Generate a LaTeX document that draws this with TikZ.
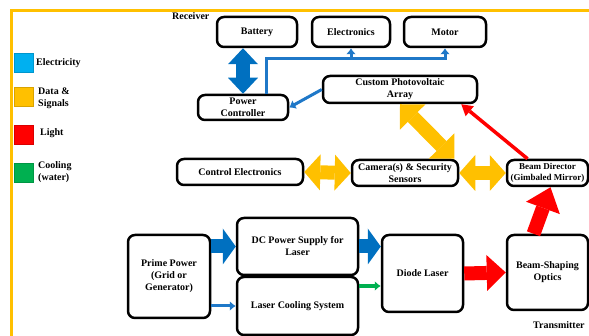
\documentclass[tikz,border=0pt]{standalone}
\usepackage{fontspec}
\setmainfont{Liberation Serif}
\usetikzlibrary{arrows.meta}

\definecolor{elecblue}{HTML}{00B0F0}
\definecolor{wireblue}{HTML}{1F78C8}
\definecolor{fatblue}{HTML}{0070C0}
\definecolor{dataorange}{HTML}{FFC000}
\definecolor{lightred}{HTML}{FF0000}
\definecolor{coolgreen}{HTML}{00B050}

\begin{document}
\begin{tikzpicture}[x=1pt,y=-1pt,
	blk/.style={draw,line width=2.5pt,rounded corners=7pt,align=center,inner sep=1pt,
		font=\fontsize{10}{12}\selectfont\bfseries},
	lbl/.style={anchor=west,align=left,inner sep=0pt,font=\fontsize{10}{12}\selectfont\bfseries},
	key/.style={minimum size=19pt,inner sep=0pt,draw=#1!85!black,fill=#1,line width=0.6pt},
	wire/.style={draw=wireblue,line width=3pt,-{Latex[length=6pt,width=10pt]}},
	fat/.style={draw=#1,fill=#1,line width=14pt},
	onehead/.style={-{Triangle[length=#1,width=36pt,line width=0pt]}},
	twohead/.style={{Triangle[length=#1,width=36pt,line width=0pt]}-{Triangle[length=#1,width=36pt,line width=0pt]}}]
		\useasboundingbox (0,0) rectangle (589,336);
		\draw[dataorange,line width=3pt] (11,336) -- (11,11) -- (589,11);
		% legend
		\node[key=elecblue] (kelec) at (23.5,62.5) {};
		\node[key=dataorange] (kdata) at (23.5,97) {};
		\node[key=lightred] (klight) at (23.5,135) {};
		\node[key=coolgreen] (kcool) at (23.5,173) {};
		\node[lbl] (telec) at (36,63) {Electricity};
		\node[lbl] (tdata) at (38,98) {Data \&\\Signals};
		\node[lbl] (tlight) at (40,133) {Light};
		\node[lbl] (tcool) at (38,172) {Cooling\\(water)};
		\node[lbl] (recv) at (172,16) {Receiver};
		\node[lbl] (trans) at (533,325) {Transmitter};
		% receiver
		\node[blk,minimum width=80pt,minimum height=30pt] (bat) at (257,32) {Battery};
		\node[blk,minimum width=78pt,minimum height=30pt] (elec) at (351,32) {Electronics};
		\node[blk,minimum width=82pt,minimum height=30pt] (motor) at (445,32) {Motor};
		\node[blk,minimum width=90pt,minimum height=25pt] (pc) at (243,107.5) {Power\\Controller};
		\node[blk,minimum width=154pt,minimum height=27pt] (pv) at (400,89.5) {Custom Photovoltaic\\Array};
		\node[blk,minimum width=126pt,minimum height=26pt] (ctrl) at (240,172) {Control Electronics};
		\node[blk,minimum width=106pt,minimum height=26pt] (cam) at (405,173) {Camera(s) \& Security\\Sensors};
		\node[blk,minimum width=81pt,minimum height=26pt,font=\fontsize{9}{10.5}\selectfont\bfseries] (bd) at (547.5,173) {Beam Director\\(Gimbaled Mirror)};
		% transmitter
		\node[blk,minimum width=82pt,minimum height=83pt] (prime) at (169,276.5) {Prime Power\\(Grid or\\Generator)};
		\node[blk,minimum width=121pt,minimum height=57pt] (dc) at (297.5,246.5) {DC Power Supply for\\Laser};
		\node[blk,minimum width=121pt,minimum height=58pt] (cool) at (297.5,306) {Laser Cooling System};
		\node[blk,minimum width=81pt,minimum height=77pt] (diode) at (422.5,273.5) {Diode Laser};
		\node[blk,minimum width=81pt,minimum height=75pt] (bso) at (547.5,272.5) {Beam-Shaping\\Optics};
		% electricity
		\draw[fat=fatblue,line width=14pt,{Triangle[length=16pt,width=30pt,line width=0pt]}-{Triangle[length=16pt,width=30pt,line width=0pt]}] (pc.north) -- (pc.north |- bat.south);
		\coordinate (bend) at (266,59);
		\draw[wire] (bend |- pc.north) -- (bend) -| (motor.south);
		\draw[wire] (bend -| elec.south) -- (elec.south);
		\draw[wire] (pv.west) -- (pc.east);
		\draw[fat=fatblue,onehead=13pt] (prime.east |- dc.west) -- (dc.west);
		\draw[fat=fatblue,onehead=13pt] (dc.east) -- (dc.east -| diode.west);
		\draw[wire] (prime.east |- cool.west) -- (cool.west);
		% data
		\draw[fat=dataorange,twohead=16pt] (ctrl.east) -- (cam.west);
		\draw[fat=dataorange,twohead=16pt] (cam.east) -- (bd.west);
		\draw[fat=dataorange,twohead=18pt] (pv.south) -- ([xshift=-5pt]cam.north east);
		% light
		\draw[lightred,line width=3.5pt,-{Triangle[length=11pt,width=13pt,line width=0pt]}] ([xshift=-20pt]bd.north) -- ([xshift=-17pt]pv.south east);
		\draw[fat=lightred,onehead=19pt] (diode.east) -- (bso.west);
		\draw[fat=lightred,onehead=22pt] ([xshift=-14pt]bso.north) -- ([xshift=3pt]bd.south);
		% cooling
		\coordinate (gstart) at ([yshift=20pt]cool.east);
		\draw[coolgreen,line width=3.5pt,-{Latex[length=6pt,width=10pt]}] (gstart) -- (gstart -| diode.west);
\end{tikzpicture}
\end{document}
